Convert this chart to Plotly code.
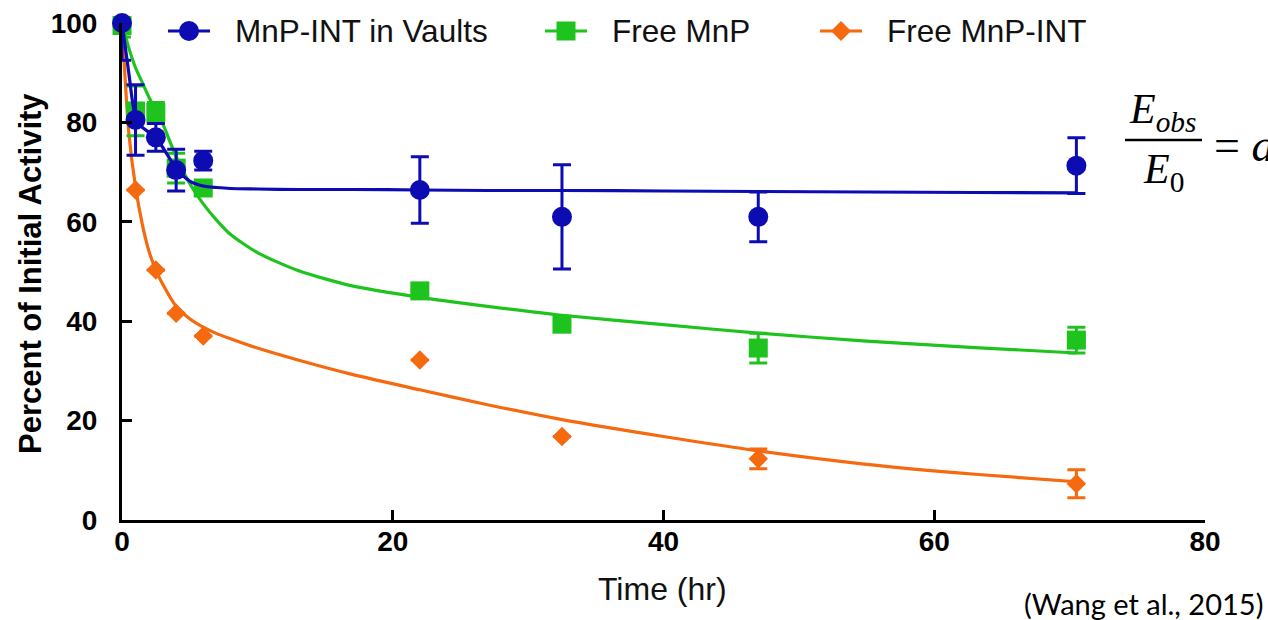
import plotly.graph_objects as go

# ---------------- data ----------------
time_hr = [0, 1, 2.5, 4, 6, 22, 32.5, 47, 70.5]

vault_y = [100, 80.5, 77.0, 70.4, 72.3, 66.4, 61.0, 61.0, 71.3]
vault_err = [7.5, 7.1, 2.8, 4.2, 1.9, 6.7, 10.5, 5.0, 5.6]

free_mnp_y = [99.5, 82.3, 82.0, 70.8, 66.8, 46.1, 39.4, 34.6, 36.2]
free_mnp_err = [2.3, 5.0, 2.0, 3.0, 0, 0, 0, 3.0, 2.6]

free_int_y = [100, 66.4, 50.3, 41.6, 37.0, 32.2, 16.8, 12.3, 7.3]
free_int_err = [0, 0, 0, 0, 0, 0, 0, 2.0, 2.8]

# fitted curves
fit_t = [0, 0.5, 1, 1.5, 2, 2.5, 3, 4, 5, 6, 7, 8, 10, 13, 17, 22, 27, 32.5, 40, 47, 55, 63, 70.5]
vault_fit = [100, 90, 81, 79, 78, 77, 75, 70.8, 68.2, 67.2, 66.9, 66.7, 66.6, 66.5, 66.5, 66.4,
             66.3, 66.3, 66.2, 66.1, 66.0, 65.9, 65.8]
free_mnp_fit = [100, 95, 91, 88, 85, 82.5, 79.8, 73.1, 67.7, 63.6, 60.3, 57.5, 53.8, 50.2, 47.1,
                44.8, 43.0, 41.2, 39.3, 37.6, 36.0, 34.7, 33.6]
free_int_fit = [100, 78, 67, 59.5, 54, 50.3, 47.5, 43, 40.5, 38.8, 37.5, 36.5, 34.6, 32.2, 29.3,
                26.2, 23.2, 20.2, 16.8, 13.9, 11.2, 9.2, 7.7]

series_names = ["MnP-INT in Vaults", "Free MnP", "Free MnP-INT"]
x_ticks = [0, 20, 40, 60, 80]
y_ticks = [0, 20, 40, 60, 80, 100]

BLUE = "#0c0cb2"
GREEN = "#1ec31e"
ORANGE = "#f5690f"

W, H = 1268, 620
L, R, T, B = 122, 63, 23, 100
PW, PH = W - L - R, H - T - B


def px(xp):
    return (xp - L) / PW


def py(yp):
    return (H - B - yp) / PH


fig = go.Figure()

specs = [
    (free_int_y, free_int_err, free_int_fit, ORANGE, "diamond", 15),
    (free_mnp_y, free_mnp_err, free_mnp_fit, GREEN, "square", 19),
    (vault_y, vault_err, vault_fit, BLUE, "circle", 20),
]

for yv, ev, fv, col, sym, size in specs:
    fig.add_trace(go.Scatter(
        x=fit_t, y=fv, mode="lines", line=dict(color=col, width=3.2, shape="spline", smoothing=0.7),
        showlegend=False, hoverinfo="skip", cliponaxis=False))
    fig.add_trace(go.Scatter(
        x=time_hr, y=yv, mode="markers",
        marker=dict(color=col, symbol=sym, size=size, line=dict(width=0)),
        error_y=dict(type="data", array=ev, visible=True, color=col, thickness=3, width=9),
        showlegend=False, cliponaxis=False))

# ---------------- hand-drawn legend (line + marker + label) ----------------
sans = "Liberation Sans, Arial, sans-serif"
leg_text_x = [233, 610, 885]
leg_cols = [BLUE, GREEN, ORANGE]
leg_y = 31
for name, tx, col, kind in zip(series_names, leg_text_x, leg_cols, ["circle", "square", "diamond"]):
    x0, x1 = tx - 65, tx - 23
    cx = (x0 + x1) / 2
    fig.add_shape(type="line", xref="paper", yref="paper", x0=px(x0), x1=px(x1),
                  y0=py(leg_y), y1=py(leg_y), line=dict(color=col, width=3.2))
    if kind == "circle":
        r = 10
        fig.add_shape(type="circle", xref="paper", yref="paper", x0=px(cx - r), x1=px(cx + r),
                      y0=py(leg_y + r), y1=py(leg_y - r), fillcolor=col, line=dict(width=0))
    elif kind == "square":
        r = 9.5
        fig.add_shape(type="rect", xref="paper", yref="paper", x0=px(cx - r), x1=px(cx + r),
                      y0=py(leg_y + r), y1=py(leg_y - r), fillcolor=col, line=dict(width=0))
    else:
        r = 10
        path = "M {a},{b} L {c},{d} L {a},{e} L {f},{d} Z".format(
            a=px(cx), b=py(leg_y - r), c=px(cx + r), d=py(leg_y), e=py(leg_y + r), f=px(cx - r))
        fig.add_shape(type="path", xref="paper", yref="paper", path=path, fillcolor=col,
                      line=dict(width=0))
    fig.add_annotation(xref="paper", yref="paper", x=px(tx), y=py(leg_y), xanchor="left",
                       yanchor="middle", showarrow=False, text=name,
                       font=dict(family=sans, size=31.5, color="#111111"))

axis_common = dict(
    showline=True, linecolor="black", linewidth=3,
    ticks="inside", ticklen=10, tickwidth=3, tickcolor="black",
    showgrid=False, zeroline=False, mirror=False,
    tickfont=dict(family=sans, size=28, color="black", weight="bold"),
)

fig.update_xaxes(
    range=[0, 80], tickvals=x_ticks, ticktext=[str(v) for v in x_ticks],
    ticklabelstandoff=-6, **axis_common)
fig.update_yaxes(
    range=[0, 100], tickvals=y_ticks, ticktext=[str(v) for v in y_ticks],
    ticklabelstandoff=16, **axis_common)

# axis titles
fig.add_annotation(xref="paper", yref="paper", x=px(662), y=py(589), xanchor="center",
                   yanchor="middle", showarrow=False, text="Time (hr)",
                   font=dict(family=sans, size=32, color="#111111"))
fig.add_annotation(xref="paper", yref="paper", x=px(30), y=py(274), xanchor="center",
                   yanchor="middle", showarrow=False, text="Percent of Initial Activity",
                   textangle=-90, font=dict(family=sans, size=31, color="black", weight="bold"))

# equation
serif = "Liberation Serif, Times New Roman, serif"
fig.add_annotation(xref="paper", yref="paper", x=px(1163), y=py(112), xanchor="center",
                   yanchor="middle", showarrow=False,
                   text="<i>E</i><sub><i>obs</i></sub>", font=dict(family=serif, size=42, color="black"))
fig.add_annotation(xref="paper", yref="paper", x=px(1163), y=py(172), xanchor="center",
                   yanchor="middle", showarrow=False,
                   text="<i>E</i><sub>0</sub>", font=dict(family=serif, size=42, color="black"))
fig.add_annotation(xref="paper", yref="paper", x=px(1212), y=py(146), xanchor="left",
                   yanchor="middle", showarrow=False,
                   text="= <i>a</i>", font=dict(family=serif, size=46, color="black"))
fig.add_shape(type="line", xref="paper", yref="paper", x0=px(1125), x1=px(1202),
              y0=py(140), y1=py(140), line=dict(color="black", width=2.5))

fig.add_annotation(xref="paper", yref="paper", x=px(1265), y=py(603), xanchor="right",
                   yanchor="middle", showarrow=False, text="(Wang et al., 2015)",
                   font=dict(family="Lato, Open Sans, sans-serif", size=29, color="black"))

fig.update_layout(
    width=W, height=H,
    margin=dict(l=L, r=R, t=T, b=B, autoexpand=False),
    paper_bgcolor="white", plot_bgcolor="white",
    showlegend=False,
)

fig.write_html("out.html", config={"displayModeBar": False},
               post_script="document.body.style.margin='0';document.body.style.overflow='hidden';")
